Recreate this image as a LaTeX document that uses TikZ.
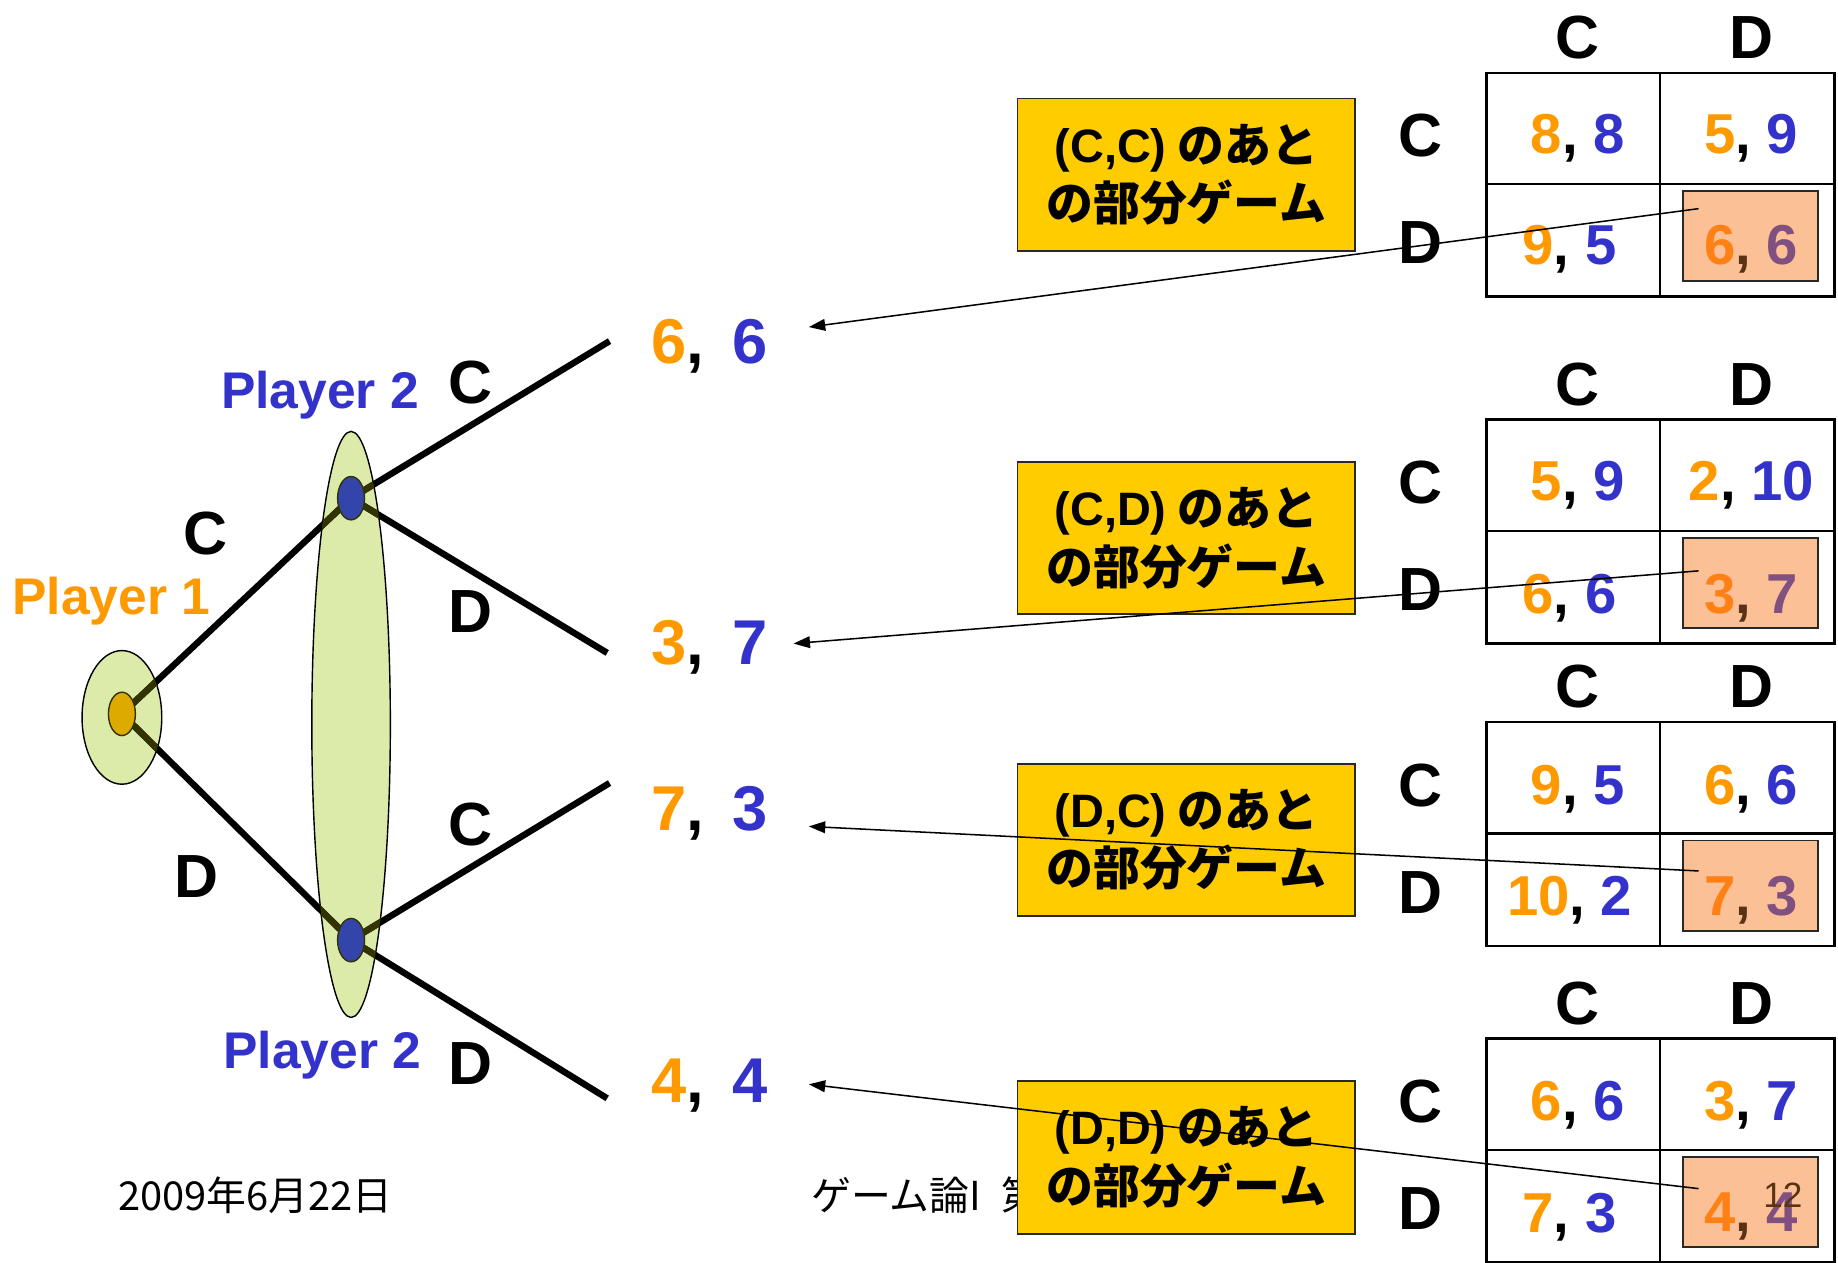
\documentclass[tikz,border=0pt]{standalone}
\usepackage{fontspec}
\setmainfont{Liberation Sans}
\newfontfamily\jp{Noto Sans CJK JP}
\usetikzlibrary{shapes.geometric,arrows.meta}
\definecolor{orng}{RGB}{255,153,0}
\definecolor{blu}{RGB}{51,51,204}
\definecolor{ygold}{RGB}{255,204,0}
\definecolor{lgreen}{RGB}{220,235,170}
\definecolor{pone}{RGB}{221,170,0}
\definecolor{ptwo}{RGB}{51,68,170}
\definecolor{olive}{RGB}{51,51,0}
\definecolor{peach}{RGB}{252,192,150}
\definecolor{hlo}{RGB}{255,128,20}
\definecolor{hlc}{RGB}{90,50,20}
\definecolor{hlp}{RGB}{128,80,128}
\definecolor{boxedge}{RGB}{40,40,40}
\pgfdeclarelayer{bg}
\pgfsetlayers{bg,main}
\newcommand\payofftab[2]{%
  \draw[tline] (1268,#2) rectangle (1565,#2+191);
  \draw[tline] (1268,#2+95) -- (1565,#2+95);
  \draw[tline] (1416,#2) -- (1416,#2+191);
  \node[lbl] (#1hc) at (1346,#2-30) {C};
  \node[lbl] (#1hd) at (1494,#2-30) {D};
  \node[lbl] (#1rc) at (1212,#2+54) {C};
  \node[lbl] (#1rd) at (1212,#2+145) {D};
  \node[hbox] (#1h) at (1493.5,#2+139.5) {};
}
\newcommand\paycell[5]{\node[cell] (#1) at (#2,#3) {\textcolor{orng}{#4}, \textcolor{blu}{#5}};}
\newcommand\hlcell[5]{\node[cell] (#1) at (#2,#3) {\textcolor{hlo}{#4}\textcolor{hlc}{,} \textcolor{hlp}{#5}};}
\newcommand\lat[1]{{\rmfamily\bfseries #1}}
\begin{document}
\begin{tikzpicture}[x=1pt,y=-1pt,
  lbl/.style={font=\fontsize{52}{56}\selectfont\bfseries, inner sep=0},
  plbl/.style={font=\fontsize{44}{48}\selectfont\bfseries, inner sep=0},
  pay/.style={font=\fontsize{54}{58}\selectfont\bfseries, inner sep=0},
  cell/.style={font=\fontsize{48}{52}\selectfont\bfseries, inner sep=0},
  ybox/.style={draw=boxedge, line width=1.5pt, fill=ygold, minimum width=288pt, minimum height=130pt, inner sep=0, align=center, font=\jp\bfseries\fontsize{40}{50}\selectfont},
  hbox/.style={draw=boxedge, line width=1.5pt, fill=peach, minimum width=115pt, minimum height=77pt, inner sep=0},
  tline/.style={line width=2pt},
  edge/.style={line width=5.5pt},
  setell/.style={ellipse, draw, line width=1.2pt, fill=lgreen, inner sep=0},
  dot/.style={ellipse, draw=olive, line width=1.2pt, inner sep=0, minimum width=23pt, minimum height=37pt},
  arr/.style={line width=1.3pt, -{Triangle[length=14pt,width=10pt]}},
  foot/.style={font=\jp\fontsize{34}{38}\selectfont, inner sep=0}
]
\useasboundingbox (0,0) rectangle (1568,1077);

% ---------- game tree ----------
\node[dot, fill=pone] (p1) at (104,609) {};
\node[dot, fill=ptwo] (u2) at (299.5,425) {};
\node[dot, fill=ptwo] (l2) at (299.5,802) {};
\coordinate (eCC) at (520,291);
\coordinate (eCD) at (518,557);
\coordinate (eDC) at (520,668);
\coordinate (eDD) at (518,937);
\begin{pgfonlayer}{bg}
  \fill[white] (0,0) rectangle (1568,1077);
  \node[setell, minimum width=68pt, minimum height=114pt] (p1set) at (104,612) {};
  \node[setell, minimum width=67pt, minimum height=500pt] (p2set) at (299.5,618) {};
  \draw[edge] (p1.center) -- (u2.center);
  \draw[edge] (p1.center) -- (l2.center);
  \draw[edge] (u2.center) -- (eCC);
  \draw[edge] (u2.center) -- (eCD);
  \draw[edge] (l2.center) -- (eDC);
  \draw[edge] (l2.center) -- (eDD);
  \begin{scope}
    \clip (104,612) ellipse [x radius=34pt, y radius=57pt]
          (299.5,618) ellipse [x radius=33.5pt, y radius=250pt];
    \draw[edge, olive] (p1.center) -- (u2.center);
    \draw[edge, olive] (p1.center) -- (l2.center);
    \draw[edge, olive] (u2.center) -- (eCC);
    \draw[edge, olive] (u2.center) -- (eCD);
    \draw[edge, olive] (l2.center) -- (eDC);
    \draw[edge, olive] (l2.center) -- (eDD);
  \end{scope}
\end{pgfonlayer}

\node[plbl, text=orng] (pl1) at (95,513) {Player 1};
\node[plbl, text=blu] (pl2u) at (273,337) {Player 2};
\node[plbl, text=blu] (pl2l) at (275,900) {Player 2};
\node[lbl] (aC) at (175,455) {C};
\node[lbl] (aD) at (168,748) {D};
\node[lbl] (bC1) at (401,326) {C};
\node[lbl] (bD1) at (401,522) {D};
\node[lbl] (bC2) at (401,703) {C};
\node[lbl] (bD2) at (401,907) {D};

\node[pay] (t1) at (605,295) {\textcolor{orng}{6},\, \textcolor{blu}{6}};
\node[pay] (t2) at (605,552) {\textcolor{orng}{3},\, \textcolor{blu}{7}};
\node[pay] (t3) at (605,694) {\textcolor{orng}{7},\, \textcolor{blu}{3}};
\node[pay] (t4) at (605,926) {\textcolor{orng}{4},\, \textcolor{blu}{4}};

% ---------- footer ----------
\node[foot] (date) at (218,1020) {2009年6月22日};
\node[foot, anchor=west] (course) at (692,1020) {ゲーム論I\enspace 第};

% ---------- subgame boxes ----------
\node[ybox] (y1) at (1012,149) {\lat{(C,C)} のあと\\の部分ゲーム};
\node[ybox] (y2) at (1012,459) {\lat{(C,D)} のあと\\の部分ゲーム};
\node[ybox] (y3) at (1012,716.5) {\lat{(D,C)} のあと\\の部分ゲーム};
\node[ybox] (y4) at (1012,987.5) {\lat{(D,D)} のあと\\の部分ゲーム};

% ---------- payoff tables ----------
\payofftab{A}{62}
\paycell{Acc}{1346}{118}{8}{8}
\paycell{Acd}{1494}{118}{5}{9}
\paycell{Adc}{1339}{213}{9}{5}
\hlcell{Add}{1494}{213}{6}{6}

\payofftab{B}{358}
\paycell{Bcc}{1346}{414}{5}{9}
\paycell{Bcd}{1494}{414}{2}{10}
\paycell{Bdc}{1339}{510}{6}{6}
\hlcell{Bdd}{1494}{510}{3}{7}

\payofftab{C}{616}
\paycell{Ccc}{1346}{673}{9}{5}
\paycell{Ccd}{1494}{673}{6}{6}
\paycell{Cdc}{1339}{768}{10}{2}
\hlcell{Cdd}{1494}{768}{7}{3}

\payofftab{D}{886}
\paycell{Dcc}{1346}{943}{6}{6}
\paycell{Dcd}{1494}{943}{3}{7}
\paycell{Ddc}{1339}{1038}{7}{3}
\hlcell{Ddd}{1494}{1038}{4}{4}

\node[font=\fontsize{30}{32}\selectfont, text=hlc, inner sep=0] (pgno) at (1521,1020) {12};

% ---------- arrows ----------
\coordinate (s1) at (1449,178);
\coordinate (s2) at (1449,487);
\coordinate (s3) at (1449,743);
\coordinate (s4) at (1449,1014);
\coordinate (a1) at (690,279);
\coordinate (a2) at (677,549);
\coordinate (a3) at (690,705);
\coordinate (a4) at (690,925);
\draw[arr] (s1) -- (a1);
\draw[arr] (s2) -- (a2);
\draw[arr] (s3) -- (a3);
\draw[arr] (s4) -- (a4);
\end{tikzpicture}
\end{document}
